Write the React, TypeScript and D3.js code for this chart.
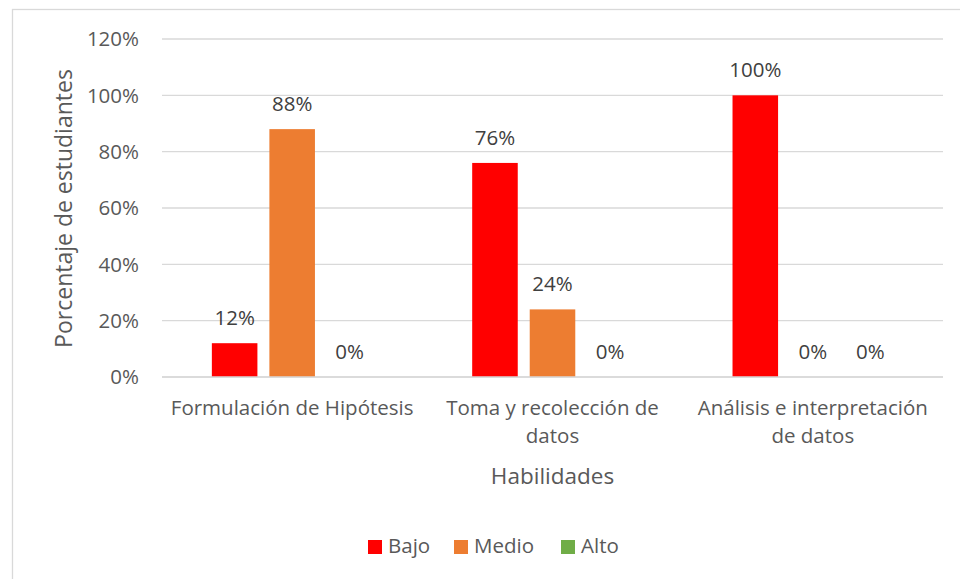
import React from "react";
import * as d3 from "d3";

const categories = ["Formulación de Hipótesis", "Toma y recolección de datos", "Análisis e interpretación de datos"];
const categoryLines = [["Formulación de Hipótesis"], ["Toma y recolección de", "datos"], ["Análisis e interpretación", "de datos"]];
const seriesNames = ["Bajo", "Medio", "Alto"];
const bajo = [12, 76, 100];
const medio = [88, 24, 0];
const alto = [0, 0, 0];
const yTicks = [0, 20, 40, 60, 80, 100, 120];
const colors = ["#FF0000", "#ED7D31", "#70AD47"];

const FONT = "'Open Sans', sans-serif";
const TEXT = "#595959";

export default function App() {
  const W = 960, H = 579;
  const left = 162, right = 943, top = 39, bottom = 377;
  const x = d3.scaleBand<string>().domain(categories).range([left, right]).padding(0);
  const y = d3.scaleLinear().domain([0, 120]).range([bottom, top]);
  const series = [bajo, medio, alto];
  const bw = x.bandwidth();
  const barW = bw * 0.175;
  const step = bw * 0.221;
  const fs = 20.5;

  return (
    <svg width={W} height={H} style={{ position: "absolute", left: 0, top: 0, fontFamily: FONT }}>
      <rect x={0} y={0} width={W} height={H} fill="#fff" />
      <rect x={12.5} y={9.5} width={W + 20} height={H + 20} fill="#fff" stroke="#D9D9D9" strokeWidth={1.3} />
      {yTicks.map((t) => (
        <g key={t}>
          <line x1={left} x2={right} y1={y(t)} y2={y(t)} stroke="#D9D9D9" strokeWidth={1.3} />
          <text x={139} y={y(t)} dy="0.36em" textAnchor="end" fontSize={fs} fill={TEXT}>{t}%</text>
        </g>
      ))}
      {categories.map((c, ci) => {
        const cx = (x(c) as number) + bw / 2;
        return (
          <g key={c}>
            {series.map((s, si) => {
              const bx = cx + (si - 1) * step - barW / 2;
              const v = s[ci];
              return (
                <g key={si}>
                  {v > 0 && <rect x={bx} y={y(v)} width={barW} height={y(0) - y(v)} fill={colors[si]} />}
                  <text x={bx + barW / 2} y={y(v) - 18} textAnchor="middle" fontSize={fs} fill="#404040">{v}%</text>
                </g>
              );
            })}
            {categoryLines[ci].map((ln, li) => (
              <text key={li} x={cx} y={415 + li * 28} textAnchor="middle" fontSize={fs} fill={TEXT}>{ln}</text>
            ))}
          </g>
        );
      })}
      <line x1={left} x2={right} y1={y(0)} y2={y(0)} stroke="#D9D9D9" strokeWidth={1.3} />
      <text transform={`translate(72, 208.5) rotate(-90)`} textAnchor="middle" fontSize={23} fill={TEXT}>Porcentaje de estudiantes</text>
      <text x={(left + right) / 2} y={484} textAnchor="middle" fontSize={22.5} fill={TEXT}>Habilidades</text>
      {seriesNames.map((n, i) => {
        const lx = [368, 454, 561][i];
        return (
          <g key={n}>
            <rect x={lx} y={540} width={14} height={14} fill={colors[i]} />
            <text x={lx + 20} y={553} fontSize={fs} fill={TEXT}>{n}</text>
          </g>
        );
      })}
    </svg>
  );
}
